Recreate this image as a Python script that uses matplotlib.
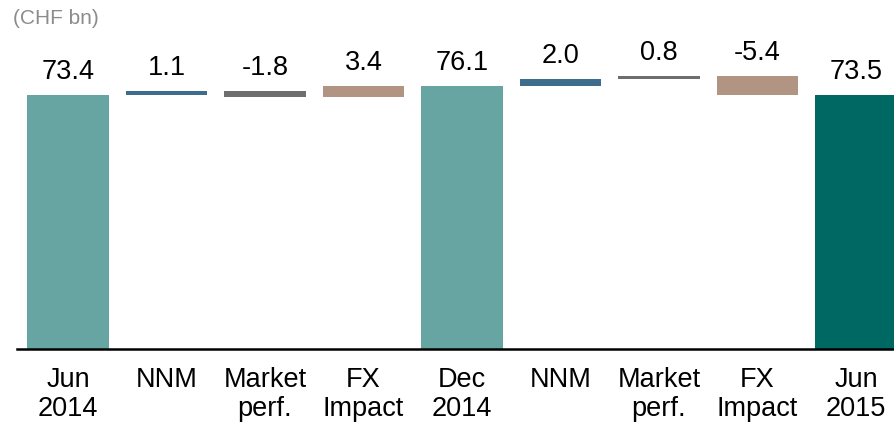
import matplotlib
matplotlib.use("Agg")
import matplotlib.pyplot as plt
import numpy as np

plt.rcParams['font.family'] = ['Liberation Sans', 'DejaVu Sans']

categories = ["Jun\n2014", "NNM", "Market\nperf.", "FX\nImpact", "Dec\n2014",
              "NNM", "Market\nperf.", "FX\nImpact", "Jun\n2015"]
values = [73.4, 1.1, -1.8, 3.4, 76.1, 2.0, 0.8, -5.4, 73.5]
kinds = ["total", "delta", "delta", "delta", "total", "delta", "delta", "delta", "total"]
labels = ["73.4", "1.1", "-1.8", "3.4", "76.1", "2.0", "0.8", "-5.4", "73.5"]
colors = ["#66A5A2", "#3E6C8C", "#6E6E6E", "#B29482", "#66A5A2",
          "#3E6C8C", "#6E6E6E", "#B29482", "#006863"]

fig = plt.figure(figsize=(8.95, 4.23), dpi=100)
ax = fig.add_axes([17/895, (423-348.5)/423, 878/895, 348.5/423])

x = np.arange(len(values))
bottoms, heights, tops = [], [], []
running = 0.0
for v, k in zip(values, kinds):
    if k == "total":
        bottoms.append(0.0)
        heights.append(v)
        running = v
        tops.append(v)
    else:
        start = running
        end = running + v
        bottoms.append(min(start, end))
        heights.append(abs(v))
        tops.append(max(start, end))
        running = end

ax.bar(x, heights, bottom=bottoms, width=0.83, color=colors, linewidth=0)

for xi, t, lab in zip(x, tops, labels):
    ax.annotate(lab, (xi, t), xytext=(0, 11.5), textcoords="offset points",
                ha="center", va="baseline", fontsize=19.5, color="black")

ax.set_xlim(-0.518, 8.396)
ax.set_ylim(0, 100.9)
ax.set_xticks(x)
ax.set_xticklabels(categories, fontsize=19.5, linespacing=1.12)
ax.tick_params(axis="x", length=0, pad=13.5)
ax.set_yticks([])
for s in ["top", "right", "left"]:
    ax.spines[s].set_visible(False)
ax.spines["bottom"].set_linewidth(1.8)
ax.spines["bottom"].set_color("black")

fig.text(13/895, 1 - 18/423, "(CHF bn)", fontsize=15, color="#8C8C8C",
         ha="left", va="center")

fig.savefig("out.png", dpi=100)
